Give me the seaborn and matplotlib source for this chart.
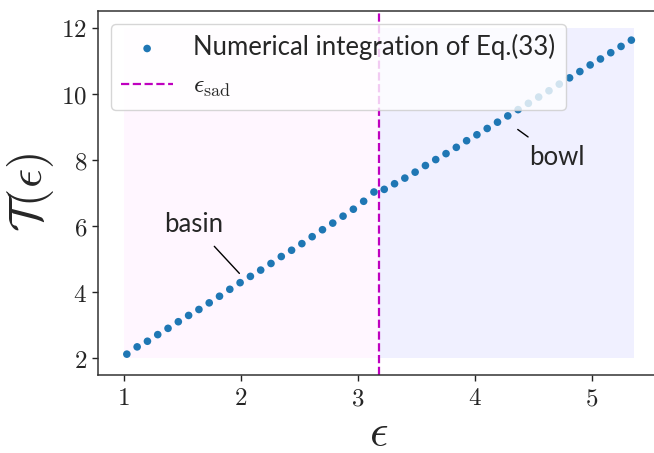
import matplotlib
matplotlib.use("Agg")
import matplotlib.pyplot as plt
from matplotlib.ticker import FuncFormatter, MultipleLocator
import seaborn as sns
import pandas as pd

# Transit time T(eps) from numerical integration of Eq.(33)
eps = [1.026, 1.114, 1.202, 1.290, 1.378, 1.466, 1.554, 1.642, 1.730, 1.818,
       1.906, 1.994, 2.082, 2.170, 2.258, 2.346, 2.434, 2.522, 2.610, 2.698,
       2.786, 2.874, 2.962, 3.050, 3.138, 3.226, 3.314, 3.402, 3.490, 3.578,
       3.666, 3.754, 3.842, 3.930, 4.018, 4.106, 4.194, 4.282, 4.370, 4.458,
       4.546, 4.634, 4.722, 4.810, 4.898, 4.986, 5.074, 5.162, 5.250, 5.338]
T = [2.13, 2.35, 2.52, 2.72, 2.91, 3.11, 3.30, 3.48, 3.68, 3.88,
     4.09, 4.29, 4.48, 4.67, 4.87, 5.08, 5.27, 5.47, 5.68, 5.89,
     6.09, 6.30, 6.51, 6.75, 7.03, 7.11, 7.28, 7.45, 7.63, 7.83,
     8.01, 8.19, 8.38, 8.58, 8.76, 8.95, 9.14, 9.33, 9.52, 9.71,
     9.90, 10.09, 10.29, 10.48, 10.67, 10.87, 11.05, 11.24, 11.43, 11.62]

eps_sad = 3.18
basin_x = [1.0, eps_sad]
bowl_x = [eps_sad, 5.36]
band_y = [2.0, 12.0]

sns.set_style("ticks")
plt.rcParams["font.family"] = ["Lato", "DejaVu Sans"]
plt.rcParams["mathtext.fontset"] = "cm"

df = pd.DataFrame({"eps": eps, "T": T})

fig = plt.figure(figsize=(6.54, 4.53), dpi=100)
ax = fig.add_axes([0.1503, 0.1722, 0.858, 0.8035])

ax.fill_between(basin_x, band_y[0], band_y[1], color="#ff00ff", alpha=0.035, lw=0)
ax.fill_between(bowl_x, band_y[0], band_y[1], color="#0000ff", alpha=0.06, lw=0)

sns.scatterplot(data=df, x="eps", y="T", ax=ax, s=30, color="#1f77b4",
                edgecolor="none", zorder=3,
                label="Numerical integration of Eq.(33)")
ax.axvline(eps_sad, color="m", ls="--", lw=1.6, zorder=2,
           label=r"$\epsilon_{\rm sad}$")

ax.annotate("basin", xy=(1.988, 4.57), xytext=(1.60, 6.05),
            fontsize=18.5, ha="center", va="center",
            arrowprops=dict(arrowstyle="-", color="k", lw=1.0, shrinkA=6, shrinkB=0))
ax.annotate("bowl", xy=(4.367, 8.92), xytext=(4.70, 8.07),
            fontsize=18.5, ha="center", va="center",
            arrowprops=dict(arrowstyle="-", color="k", lw=1.0, shrinkA=6, shrinkB=0))

ax.set_xlim(0.782, 5.578)
ax.set_ylim(1.5, 12.5)
ax.xaxis.set_major_locator(MultipleLocator(1))
ax.yaxis.set_major_locator(MultipleLocator(2))
fmt = FuncFormatter(lambda v, p: f"${v:g}$")
ax.xaxis.set_major_formatter(fmt)
ax.yaxis.set_major_formatter(fmt)
ax.tick_params(labelsize=18, length=4.5, width=1.0, color="#222222")

for s in ax.spines.values():
    s.set_linewidth(1.1)
    s.set_color("#333333")

ax.set_xlabel(r"$\epsilon$", fontsize=33, labelpad=2)
ax.set_ylabel(r"$\mathcal{T}(\epsilon)$", fontsize=34, labelpad=4)

leg = ax.legend(loc="upper left", fontsize=18.5, frameon=True, markerscale=1.0,
                handlelength=2.0, borderaxespad=0.5)
leg.get_frame().set_alpha(0.8)

fig.savefig("out.png", dpi=100)
